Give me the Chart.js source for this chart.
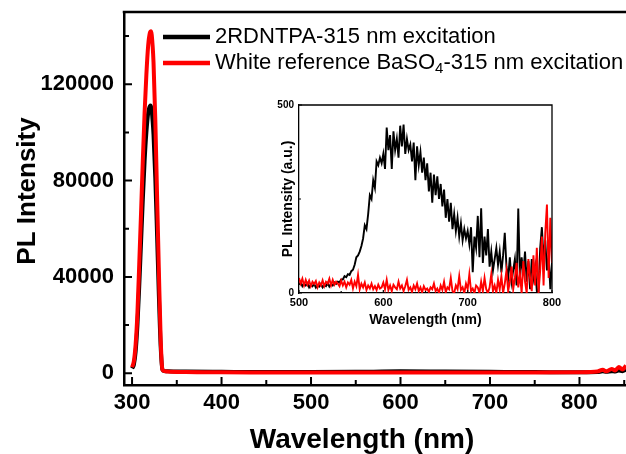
<!DOCTYPE html>
<html>
<head>
<meta charset="utf-8">
<script src="https://cdn.jsdelivr.net/npm/chart.js@4.4.1/dist/chart.umd.min.js"></script>
<style>
  body { margin: 0; background: #fff; }
  #wrap { position: relative; width: 626px; height: 454px; }
  #main { position: absolute; left: 0; top: 0; }
  #inset { position: absolute; left: 240px; top: 95px; }
</style>
</head>
<body>
<div id="wrap">
  <canvas id="main" width="626" height="454"></canvas>
  <canvas id="inset" width="330" height="240"></canvas>
</div>
<script>
// main spectrum (nm, counts)
var mainWl = [300,302,304,306,308,310,312,314,316,318,
              320,321,322,324,326,328,330,332,334,336,
              340,360,400,450,500,550,600,650,700,750,
              800,820,826,830,836,840,844,848,852];
var mainBlack = [2000,3500,9000,20000,36000,54000,72000,88000,100000,108000,
                 111000,111200,109000,99000,81000,57000,32000,11000,1500,900,
                 800,700,600,500,500,600,800,700,600,500,
                 400,500,800,600,900,700,1200,900,1500];
var mainRed = [2500,5000,12000,25000,45000,66000,88000,108000,124000,136000,
               141500,142000,140500,129000,105000,73000,42000,14000,1500,900,
               700,500,400,350,300,300,300,300,300,300,
               400,700,1500,800,1800,1200,2600,1600,3200];
var mainXTicks = [300,400,500,600,700,800];
var mainXMinor = [350,450,550,650,750,850];
var mainYTicks = [0,40000,80000,120000];
var mainYMinor = [20000,60000,100000,140000];

// inset spectrum, 500-800 nm every 2 nm
var insetBlack = [22,28,18,25,20,26,15,22,18,24,
                  14,20,17,24,15,21,18,26,17,24,
                  20,28,24,30,28,36,36,45,42,50,
                  48,58,62,75,95,100,110,125,145,180,
                  170,210,260,250,300,280,350,340,360,345,
                  370,330,440,380,420,330,430,380,410,360,
                  445,390,448,370,410,380,395,350,400,300,
                  390,340,375,320,360,300,345,270,320,240,
                  315,260,310,250,290,230,275,200,250,190,
                  240,170,210,165,200,150,185,140,170,145,
                  165,130,175,55,150,120,205,95,225,80,
                  150,100,170,70,110,60,90,120,75,110,
                  55,100,160,70,40,95,30,60,90,20,
                  225,40,95,50,110,30,85,10,90,40,
                  70,5,0,120,175,90,140,60,100,10,
                  80];
var insetRed = [40,25,38,20,35,22,33,18,30,24,
                32,15,28,20,34,18,30,25,38,20,
                35,22,30,25,18,33,20,30,15,28,
                22,35,12,30,18,48,10,25,15,28,
                8,20,12,25,10,18,8,22,12,15,
                28,10,35,8,20,5,22,15,10,30,
                12,20,5,18,35,8,15,3,20,10,
                25,5,15,2,18,8,12,3,15,10,
                25,5,12,0,20,8,30,2,15,10,
                40,5,0,20,10,45,8,15,0,25,
                10,50,5,12,0,20,15,0,30,5,
                40,10,0,15,50,5,20,0,35,10,
                45,0,25,60,5,30,70,10,40,80,
                15,50,0,85,30,0,90,40,5,100,
                20,120,0,60,150,20,160,235,40,200,
                80];
var insetWl = insetBlack.map(function(_, i) { return 500 + 2 * i; });
var insetXTicks = [500,600,700,800];
var insetXMinor = [550,650,750];
var insetYTicks = [0,500];
var insetYMinor = [250];

var labelBlack = '2RDNTPA-315 nm excitation';
var labelRed = 'White reference BaSO_4-315 nm excitation';
var xTitle = 'Wavelength (nm)';
var yTitle = 'PL Intensity';

var FONT = "'Liberation Sans', Arial, sans-serif";

function pts(xs, ys) {
  return xs.map(function(x, i) { return {x: x, y: ys[i]}; });
}
function plain(v) { return String(v); }
function noPad(s) { s.paddingTop = 0; s.paddingBottom = 0; s.paddingLeft = 0; s.paddingRight = 0; }

// frame on top (and right), inward tick marks
var frameTicks = {
  id: 'frameTicks',
  afterDraw: function(chart, args, o) {
    var ctx = chart.ctx, a = chart.chartArea, sx = chart.scales.x, sy = chart.scales.y;
    ctx.save();
    ctx.strokeStyle = '#000';
    ctx.lineWidth = o.border;
    ctx.beginPath();
    ctx.moveTo(a.left - o.border / 2, a.top);
    ctx.lineTo(o.right ? a.right + o.border / 2 : chart.width, a.top);
    if (o.right) {
      ctx.moveTo(a.right, a.top);
      ctx.lineTo(a.right, a.bottom);
    }
    ctx.stroke();
    ctx.lineWidth = o.tickWidth;
    ctx.beginPath();
    function xm(vals, len) {
      vals.forEach(function(v) {
        var p = sx.getPixelForValue(v);
        if (p > a.right) return;
        ctx.moveTo(p, a.bottom); ctx.lineTo(p, a.bottom - len);
      });
    }
    function ym(vals, len) {
      vals.forEach(function(v) {
        var p = sy.getPixelForValue(v);
        ctx.moveTo(a.left, p); ctx.lineTo(a.left + len, p);
      });
    }
    xm(o.xMajor, o.major); xm(o.xMinor, o.minor);
    ym(o.yMajor, o.major); ym(o.yMinor, o.minor);
    ctx.stroke();
    ctx.restore();
  }
};

// main axis titles (the original sits a bit off the plot centre)
var mainTitles = {
  id: 'mainTitles',
  afterDraw: function(chart) {
    var ctx = chart.ctx;
    ctx.save();
    ctx.fillStyle = '#000';
    ctx.textAlign = 'center';
    ctx.textBaseline = 'middle';
    ctx.font = 'bold 28px ' + FONT;
    ctx.fillText(xTitle, 362, 440);
    ctx.translate(28, 191);
    ctx.rotate(-Math.PI / 2);
    ctx.font = 'bold 26px ' + FONT;
    ctx.fillText(yTitle, 0, 0);
    ctx.restore();
  }
};

// legend drawn inside the plot, with subscript support
var inLegend = {
  id: 'inLegend',
  afterDraw: function(chart) {
    var ctx = chart.ctx;
    ctx.save();
    chart.data.datasets.forEach(function(ds, i) {
      var y = 37 + i * 26;
      ctx.strokeStyle = ds.borderColor;
      ctx.lineWidth = 4.5;
      ctx.beginPath();
      ctx.moveTo(163, y); ctx.lineTo(210, y);
      ctx.stroke();
      ctx.fillStyle = '#000';
      ctx.textBaseline = 'middle';
      var x = 215;
      var parts = ds.label.split(/_(\d)/);
      parts.forEach(function(p, k) {
        if (k % 2 === 1) {
          ctx.font = '15px ' + FONT;
          ctx.fillText(p, x, y + 6);
        } else {
          ctx.font = '22px ' + FONT;
          ctx.fillText(p, x, y);
        }
        x += ctx.measureText(p).width;
      });
    });
    ctx.restore();
  }
};

new Chart(document.getElementById('main'), {
  type: 'line',
  data: {
    datasets: [
      { label: labelBlack, data: pts(mainWl, mainBlack), borderColor: '#000000',
        borderWidth: 4, pointRadius: 0, cubicInterpolationMode: 'monotone', order: 1 },
      { label: labelRed, data: pts(mainWl, mainRed), borderColor: '#ff0000',
        borderWidth: 4, pointRadius: 0, cubicInterpolationMode: 'monotone', order: 0 }
    ]
  },
  options: {
    responsive: false,
    animation: false,
    devicePixelRatio: 1,
    layout: { padding: { top: 12, right: 0, bottom: 0, left: 0 } },
    plugins: {
      legend: { display: false },
      tooltip: { enabled: false },
      frameTicks: { border: 2.5, right: false, tickWidth: 2, major: 8, minor: 5,
        xMajor: mainXTicks, xMinor: mainXMinor, yMajor: mainYTicks, yMinor: mainYMinor }
    },
    scales: {
      x: {
        type: 'linear', min: 291, max: 852,
        afterBuildTicks: function(s) { s.ticks = mainXTicks.map(function(v) { return {value: v}; }); },
        afterFit: function(s) { s.height = 69; noPad(s); },
        grid: { display: false, drawTicks: false },
        border: { display: true, width: 2.5, color: '#000' },
        ticks: { color: '#000', padding: 5, callback: plain, font: { family: FONT, size: 22, weight: 'bold' } },
        title: { display: false }
      },
      y: {
        min: -4860, max: 150000,
        afterBuildTicks: function(s) { s.ticks = mainYTicks.map(function(v) { return {value: v}; }); },
        afterFit: function(s) { s.width = 124; noPad(s); },
        grid: { display: false, drawTicks: false },
        border: { display: true, width: 2.5, color: '#000' },
        ticks: { color: '#000', padding: 10, callback: plain, font: { family: FONT, size: 22, weight: 'bold' } },
        title: { display: false }
      }
    }
  },
  plugins: [frameTicks, mainTitles, inLegend]
});

new Chart(document.getElementById('inset'), {
  type: 'line',
  data: {
    datasets: [
      { label: labelBlack, data: pts(insetWl, insetBlack), borderColor: '#000000',
        borderWidth: 1.9, pointRadius: 0, tension: 0, order: 1 },
      { label: labelRed, data: pts(insetWl, insetRed), borderColor: '#ff0000',
        borderWidth: 1.9, pointRadius: 0, tension: 0, order: 0 }
    ]
  },
  options: {
    responsive: false,
    animation: false,
    devicePixelRatio: 1,
    layout: { padding: { top: 10, right: 18, bottom: 0, left: 0 } },
    plugins: {
      legend: { display: false },
      tooltip: { enabled: false },
      frameTicks: { border: 1.3, right: true, tickWidth: 1.2, major: 3, minor: 2,
        xMajor: insetXTicks, xMinor: insetXMinor, yMajor: insetYTicks, yMinor: insetYMinor }
    },
    scales: {
      x: {
        type: 'linear', min: 500, max: 800,
        afterBuildTicks: function(s) { s.ticks = insetXTicks.map(function(v) { return {value: v}; }); },
        afterFit: function(s) { s.height = 42; noPad(s); },
        grid: { display: false, drawTicks: false },
        border: { display: true, width: 1.3, color: '#000' },
        ticks: { color: '#000', padding: 3, callback: plain, font: { family: FONT, size: 11, weight: 'bold' } },
        title: { display: true, text: xTitle, color: '#000', padding: { top: 0, bottom: 8 },
          font: { family: FONT, size: 14, weight: 'bold', lineHeight: 1 } }
      },
      y: {
        min: 0, max: 500,
        afterBuildTicks: function(s) { s.ticks = insetYTicks.map(function(v) { return {value: v}; }); },
        afterFit: function(s) { s.width = 59; noPad(s); },
        grid: { display: false, drawTicks: false },
        border: { display: true, width: 1.3, color: '#000' },
        ticks: { color: '#000', padding: 5, callback: plain, font: { family: FONT, size: 10, weight: 'bold' } },
        title: { display: true, text: 'PL Intensity (a.u.)', color: '#000', padding: { top: 41, bottom: 0 },
          font: { family: FONT, size: 14, weight: 'bold', lineHeight: 1 } }
      }
    }
  },
  plugins: [frameTicks]
});
</script>
</body>
</html>
